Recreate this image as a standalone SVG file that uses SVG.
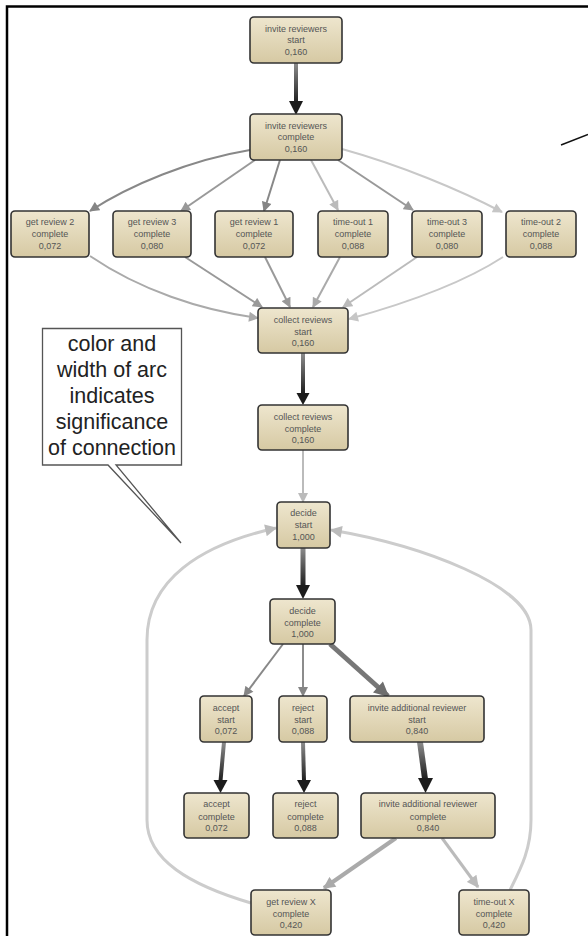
<svg xmlns="http://www.w3.org/2000/svg" width="588" height="936" viewBox="0 0 588 936">
<defs>
<linearGradient id="nodeFill" x1="0" y1="0" x2="0" y2="1">
<stop offset="0" stop-color="#eee6ce"/>
<stop offset="1" stop-color="#d6c9a3"/>
</linearGradient>
<linearGradient id="dark" x1="0" y1="0" x2="0" y2="1">
<stop offset="0" stop-color="#8c8c8c"/>
<stop offset="1" stop-color="#1e1e1e"/>
</linearGradient>
<marker id="a77" markerUnits="userSpaceOnUse" viewBox="0 0 10 10" refX="9" refY="5" markerWidth="17" markerHeight="15" orient="auto"><path d="M0,0 L10,5 L0,10 z" fill="#6e6e6e"/></marker>
<marker id="a88" markerUnits="userSpaceOnUse" viewBox="0 0 10 10" refX="9" refY="5" markerWidth="11" markerHeight="10" orient="auto"><path d="M0,0 L10,5 L0,10 z" fill="#858585"/></marker>
<marker id="a99" markerUnits="userSpaceOnUse" viewBox="0 0 10 10" refX="9" refY="5" markerWidth="11" markerHeight="10" orient="auto"><path d="M0,0 L10,5 L0,10 z" fill="#999"/></marker>
<marker id="aaa" markerUnits="userSpaceOnUse" viewBox="0 0 10 10" refX="9" refY="5" markerWidth="11" markerHeight="10" orient="auto"><path d="M0,0 L10,5 L0,10 z" fill="#aaa"/></marker>
<marker id="abb" markerUnits="userSpaceOnUse" viewBox="0 0 10 10" refX="9" refY="5" markerWidth="11" markerHeight="10" orient="auto"><path d="M0,0 L10,5 L0,10 z" fill="#bbb"/></marker>
<marker id="acc" markerUnits="userSpaceOnUse" viewBox="0 0 10 10" refX="9" refY="5" markerWidth="11" markerHeight="10" orient="auto"><path d="M0,0 L10,5 L0,10 z" fill="#c6c6c6"/></marker>
<marker id="aaaL" markerUnits="userSpaceOnUse" viewBox="0 0 10 10" refX="9" refY="5" markerWidth="13" markerHeight="12" orient="auto"><path d="M0,0 L10,5 L0,10 z" fill="#aaa"/></marker>
<marker id="abbL" markerUnits="userSpaceOnUse" viewBox="0 0 10 10" refX="9" refY="5" markerWidth="13" markerHeight="12" orient="auto"><path d="M0,0 L10,5 L0,10 z" fill="#bbb"/></marker>
</defs>
<style>
.node rect{fill:url(#nodeFill);stroke:#333;stroke-width:1.6}
.node text{font-family:"Liberation Sans",Arial,sans-serif;font-size:9px;fill:#555;text-anchor:middle}
.e{fill:none;stroke-linecap:butt}
.head{fill:#1c1c1c}
.shaft{fill:url(#dark)}
.callout text{font-family:"Liberation Sans",Arial,sans-serif;font-size:21.5px;fill:#222;text-anchor:middle}
</style>
<rect width="588" height="936" fill="#fff"/>
<!-- frame -->
<path d="M7,936 V6.5 H588" fill="none" stroke="#000" stroke-width="2.5"/>
<line x1="561" y1="145" x2="588" y2="134.5" stroke="#111" stroke-width="1.4"/>

<g id="connectors">
<!-- fan out from invite reviewers complete -->
<path class="e" d="M250,150 C190,160 130,185 90,211" stroke="#888" stroke-width="2" marker-end="url(#a88)"/>
<path class="e" d="M255,160 L181,211" stroke="#999" stroke-width="2" marker-end="url(#a99)"/>
<path class="e" d="M280,160 L264,211" stroke="#888" stroke-width="2" marker-end="url(#a88)"/>
<path class="e" d="M311,160 L338,210" stroke="#bbb" stroke-width="2" marker-end="url(#abb)"/>
<path class="e" d="M338,160 L413,210" stroke="#999" stroke-width="2" marker-end="url(#a99)"/>
<path class="e" d="M342,149 C400,165 460,190 502,212" stroke="#c8c8c8" stroke-width="2" marker-end="url(#acc)"/>
<!-- fan in to collect reviews start -->
<path class="e" d="M90,256 C140,290 200,310 258,318" stroke="#aaa" stroke-width="2" marker-end="url(#aaa)"/>
<path class="e" d="M185,257 L262,307" stroke="#999" stroke-width="2" marker-end="url(#a99)"/>
<path class="e" d="M265,257 L290,307" stroke="#999" stroke-width="2" marker-end="url(#a99)"/>
<path class="e" d="M340,257 L313,307" stroke="#aaa" stroke-width="2" marker-end="url(#aaa)"/>
<path class="e" d="M417,257 L343,307" stroke="#bbb" stroke-width="2" marker-end="url(#abb)"/>
<path class="e" d="M503,257 C460,285 400,305 349,319" stroke="#c8c8c8" stroke-width="2" marker-end="url(#acc)"/>
<!-- collect reviews complete -> decide start -->
<path class="e" d="M303,450 L303,502" stroke="#bbb" stroke-width="2" marker-end="url(#abb)"/>
<!-- decide complete -> branches -->
<path class="e" d="M283,644 L244,696" stroke="#888" stroke-width="2" marker-end="url(#a88)"/>
<path class="e" d="M303,644 L303,696" stroke="#8c8c8c" stroke-width="2" marker-end="url(#a88)"/>
<path class="e" d="M330,644 L388,696" stroke="#777" stroke-width="5" marker-end="url(#a77)"/>
<!-- invite additional reviewer complete -> get review X / time-out X -->
<path class="e" d="M396,838 L324,888" stroke="#aaa" stroke-width="4" marker-end="url(#aaaL)"/>
<path class="e" d="M442,838 L478,887" stroke="#bbb" stroke-width="3" marker-end="url(#abbL)"/>
<!-- loops back to decide start -->
<path class="e" d="M251,903 C190,885 147,860 147,820 L147,640 C147,580 200,545 276,528" stroke="#ccc" stroke-width="3" marker-end="url(#abbL)"/>
<path class="e" d="M510,890 C520,870 531,850 531,820 L531,630 C531,585 420,545 331,530" stroke="#ccc" stroke-width="3" marker-end="url(#abbL)"/>
<!-- dark, significant arcs -->
<rect class="shaft" x="294" y="63" width="4" height="40"/>
<polygon class="head" points="289,101 303,101 296,115"/>
<rect class="shaft" x="301" y="353" width="4" height="41"/>
<polygon class="head" points="296.5,393 309.5,393 303,405"/>
<rect class="shaft" x="300.5" y="548" width="5" height="38"/>
<polygon class="head" points="296,585 310,585 303,599"/>
<polygon class="shaft" points="222,742 226,742 222.5,781 218.5,781"/>
<polygon class="head" points="213.5,780 227.5,780 220.5,793"/>
<polygon class="shaft" points="301,742 305,742 306,781 302,781"/>
<polygon class="head" points="297,780 311,780 304,793"/>
<polygon class="shaft" points="417,742 423,742 428,779 422,779"/>
<polygon class="head" points="418,778 433,778 425.5,793"/>
</g>

<g id="invite-reviewers-start" class="node"><rect x="250" y="17" width="92" height="46" rx="4"/><text x="296" y="31.5">invite reviewers</text><text x="296" y="43">start</text><text x="296" y="54.5">0,160</text></g>
<g id="invite-reviewers-complete" class="node"><rect x="250" y="114" width="92" height="46" rx="4"/><text x="296" y="128.5">invite reviewers</text><text x="296" y="140">complete</text><text x="296" y="151.5">0,160</text></g>
<g id="get-review-2" class="node"><rect x="11" y="211" width="78" height="46" rx="4"/><text x="50" y="225">get review 2</text><text x="50" y="237">complete</text><text x="50" y="249">0,072</text></g>
<g id="get-review-3" class="node"><rect x="113" y="211" width="78" height="46" rx="4"/><text x="152" y="225">get review 3</text><text x="152" y="237">complete</text><text x="152" y="249">0,080</text></g>
<g id="get-review-1" class="node"><rect x="215" y="211" width="78" height="46" rx="4"/><text x="254" y="225">get review 1</text><text x="254" y="237">complete</text><text x="254" y="249">0,072</text></g>
<g id="time-out-1" class="node"><rect x="318" y="211" width="70" height="46" rx="4"/><text x="353" y="225">time-out 1</text><text x="353" y="237">complete</text><text x="353" y="249">0,088</text></g>
<g id="time-out-3" class="node"><rect x="412" y="211" width="70" height="46" rx="4"/><text x="447" y="225">time-out 3</text><text x="447" y="237">complete</text><text x="447" y="249">0,080</text></g>
<g id="time-out-2" class="node"><rect x="506" y="211" width="70" height="46" rx="4"/><text x="541" y="225">time-out 2</text><text x="541" y="237">complete</text><text x="541" y="249">0,088</text></g>
<g id="collect-reviews-start" class="node"><rect x="258" y="308" width="90" height="45" rx="4"/><text x="303" y="323">collect reviews</text><text x="303" y="335">start</text><text x="303" y="346">0,160</text></g>
<g id="collect-reviews-complete" class="node"><rect x="258" y="405" width="90" height="45" rx="4"/><text x="303" y="420">collect reviews</text><text x="303" y="431.5">complete</text><text x="303" y="443">0,160</text></g>
<g id="decide-start" class="node"><rect x="277" y="502" width="53" height="46" rx="4"/><text x="303.5" y="516">decide</text><text x="303.5" y="528">start</text><text x="303.5" y="540">1,000</text></g>
<g id="decide-complete" class="node"><rect x="270" y="599" width="65" height="45" rx="4"/><text x="302.5" y="614">decide</text><text x="302.5" y="625.5">complete</text><text x="302.5" y="637">1,000</text></g>
<g id="accept-start" class="node"><rect x="200" y="696" width="52" height="46" rx="4"/><text x="226" y="711">accept</text><text x="226" y="722.5">start</text><text x="226" y="734">0,072</text></g>
<g id="reject-start" class="node"><rect x="279" y="696" width="48" height="46" rx="4"/><text x="303" y="711">reject</text><text x="303" y="722.5">start</text><text x="303" y="734">0,088</text></g>
<g id="invite-additional-reviewer-start" class="node"><rect x="350" y="696" width="134" height="46" rx="4"/><text x="417" y="711">invite additional reviewer</text><text x="417" y="722.5">start</text><text x="417" y="734">0,840</text></g>
<g id="accept-complete" class="node"><rect x="184" y="793" width="65" height="45" rx="4"/><text x="216.5" y="807">accept</text><text x="216.5" y="819.5">complete</text><text x="216.5" y="831">0,072</text></g>
<g id="reject-complete" class="node"><rect x="273" y="793" width="65" height="45" rx="4"/><text x="305.5" y="807">reject</text><text x="305.5" y="819.5">complete</text><text x="305.5" y="831">0,088</text></g>
<g id="invite-additional-reviewer-complete" class="node"><rect x="361" y="793" width="134" height="45" rx="4"/><text x="428" y="807">invite additional reviewer</text><text x="428" y="819.5">complete</text><text x="428" y="831">0,840</text></g>
<g id="get-review-x" class="node"><rect x="251" y="890" width="80" height="45" rx="4"/><text x="291" y="905">get review X</text><text x="291" y="917">complete</text><text x="291" y="928">0,420</text></g>
<g id="time-out-x" class="node"><rect x="459" y="890" width="70" height="45" rx="4"/><text x="494" y="905">time-out X</text><text x="494" y="917">complete</text><text x="494" y="928">0,420</text></g>

<g id="callout" class="callout">
<path d="M42.5,328.5 H181.5 V465 H116 L181,543 L108,465 H42.5 Z" fill="#fff" stroke="#555" stroke-width="1.3" stroke-linejoin="miter"/>
<text x="112" y="351">color and</text>
<text x="112" y="377">width of arc</text>
<text x="112" y="403">indicates</text>
<text x="112" y="429">significance</text>
<text x="112" y="455">of connection</text>
</g>
</svg>
